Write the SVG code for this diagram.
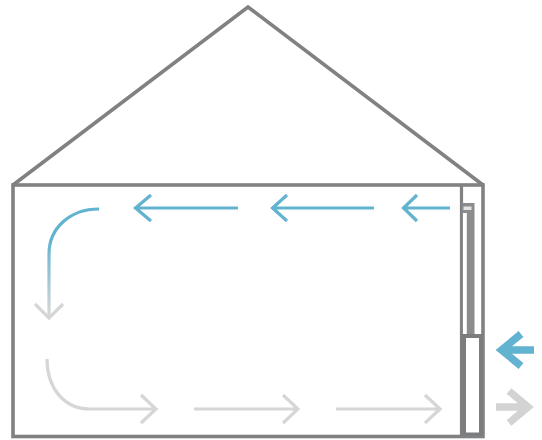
<svg xmlns="http://www.w3.org/2000/svg" width="542" height="440" viewBox="0 0 542 440">
<style>
.w{fill:none;stroke:#808183;stroke-width:3.6;stroke-linejoin:miter}
.t{fill:none;stroke:#808183;stroke-width:3.200}
.b{fill:none;stroke:#62b3d0;stroke-width:3.200}
.g{fill:none;stroke:#d5d6d5;stroke-width:3.200}
.bb{fill:none;stroke:#62b3d0;stroke-width:7.500}
.gb{fill:none;stroke:#d2d3d2;stroke-width:7.500}
</style>
<defs>
<linearGradient id="fade" gradientUnits="userSpaceOnUse" x1="0" y1="240" x2="0" y2="312">
<stop offset="0" stop-color="#62b3d0"/><stop offset="1" stop-color="#d5d6d5"/>
</linearGradient>
</defs>
<rect width="542" height="440" fill="#fff"/>
<g id="house">
<path class="w" d="M13 185L248 7L483 185"/>
<rect class="w" x="13" y="185" width="470" height="251.500"/>
</g>
<g id="window">
<path class="t" d="M461.500 185V436"/>
<rect x="462" y="203" width="12.500" height="131" fill="#8b8c8e"/>
<rect x="463.500" y="206.500" width="8" height="3.500" fill="#e2e3e3"/>
<rect x="463" y="213" width="3.800" height="121" fill="#fff"/>
<rect x="461" y="334" width="22" height="102" fill="#7c7d7f"/>
<rect x="466" y="338" width="13" height="94.500" fill="#fff"/>
</g>
<g id="connectors">
<path class="b" d="M450 208H404M417 195L403.500 208L417 221"/>
<path class="b" d="M374 208H273M287 195L272.500 208L287 221"/>
<path class="b" d="M238 208H136M151 195L135.500 208L151 221"/>
<path fill="none" stroke="url(#fade)" stroke-width="3.200" d="M99 209C70 209 49 228 49 254V318"/>
<path class="g" d="M35 304L49 318L63 304"/>
<path class="g" d="M47 359C47 388 64 409 90 409H156M141 395L156 409L141 423"/>
<path class="g" d="M194 409H297M283 395L298 409L283 423"/>
<path class="g" d="M336 409H439M425 395L440 409L425 423"/>
<path class="bb" d="M534 350H501M521 334L501.500 350L521 366"/>
<path class="gb" d="M496 407H527M509 391L528 407L509 423"/>
</g>
</svg>
